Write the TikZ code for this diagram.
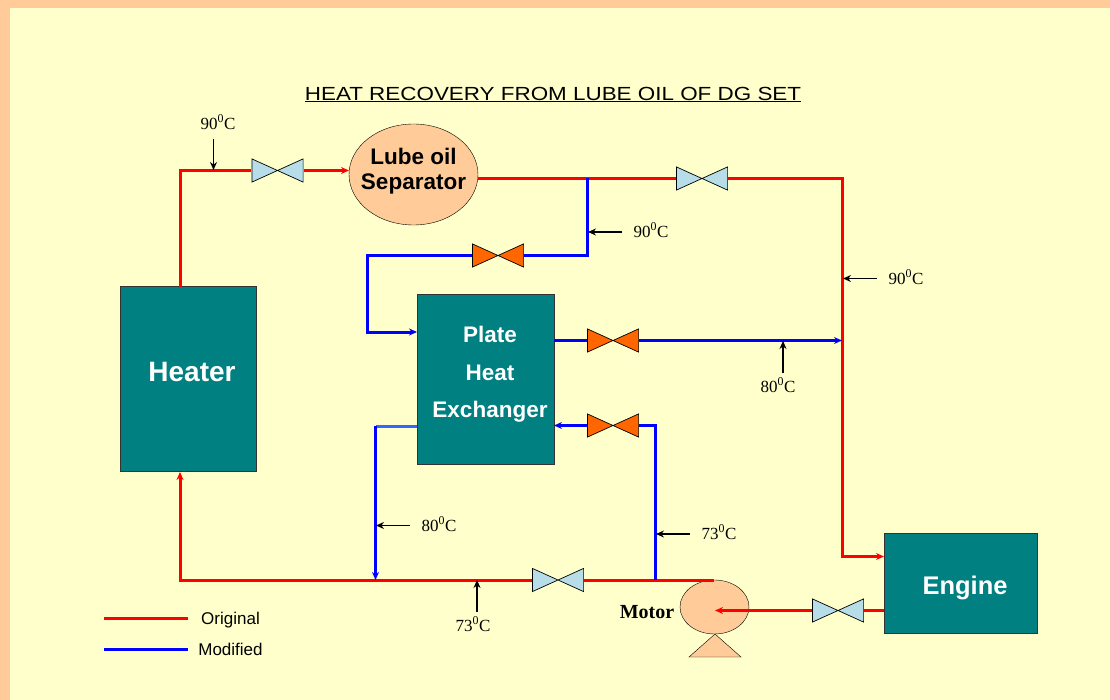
\documentclass[tikz,border=0pt]{standalone}
\usepackage{fontspec}
\setmainfont{Liberation Serif}
\setsansfont{Liberation Sans}
\newfontfamily\titlefont[FakeStretch=1.18]{Liberation Sans}
\usetikzlibrary{arrows.meta,shapes.geometric}
\definecolor{paleyellow}{HTML}{FFFFCC}
\definecolor{peach}{HTML}{FFCC99}
\definecolor{tealbox}{HTML}{008080}
\definecolor{valveblue}{HTML}{B7DEE8}
\definecolor{valveorange}{HTML}{FF6600}
\definecolor{paleblue}{HTML}{3366FF}
\tikzset{
    box/.style={draw=black!80, fill=tealbox, inner sep=0pt},
    boxtext/.style={font=\sffamily\bfseries\fontsize{#1}{#1}\selectfont, text=white, inner sep=0pt},
    valve/.style={minimum width=52pt, minimum height=24pt, inner sep=0pt, path picture={
        \draw[fill=#1, line width=0.7pt] ([shift={(-25.6pt,-11.6pt)}]path picture bounding box.center) -- ([shift={(25.6pt,11.6pt)}]path picture bounding box.center) -- ([shift={(25.6pt,-11.6pt)}]path picture bounding box.center) -- ([shift={(-25.6pt,11.6pt)}]path picture bounding box.center) -- cycle;}},
    oldline/.style={draw=red, line width=3pt},
    newline/.style={draw=blue, line width=3pt},
    tip/.style={-{Stealth[length=8pt,width=7pt]}},
    pointer/.style={draw=black, line width=1.2pt, -{Stealth[length=8pt,width=7pt]}},
    temp/.style={font=\fontsize{17}{20}\selectfont, inner sep=0pt},
    legendtext/.style={font=\sffamily\fontsize{17}{20}\selectfont, inner sep=0pt}
}
\begin{document}
\begin{tikzpicture}[x=1pt, y=-1pt]
    \useasboundingbox (0, 0) rectangle (1110, 700);

    % Hintergrund
    \fill[peach] (0, 0) rectangle (1110, 700);
    \fill[paleyellow] (10, 8) rectangle (1110, 700);

    % Titel
    \node (title) at (553, 94.5) [font=\titlefont\fontsize{19}{22}\selectfont, inner sep=0pt] {\underline{HEAT RECOVERY FROM LUBE OIL OF DG SET}};

    % Anlagen
    \node (heater) at (188, 379) [box, minimum width=136pt, minimum height=185pt] {};
    \node (heatertext) at (192, 372) [boxtext=28] {Heater};
    \node (plate) at (485.5, 379) [box, minimum width=136.5pt, minimum height=170pt] {};
    \node (platetext) at (490, 334.5) [boxtext=22.5] {Plate};
    \node (heat) at (490, 373) [boxtext=22.5] {Heat};
    \node (exchanger) at (490, 412) [boxtext=22.5] {Exchanger};
    \node (engine) at (961, 583.5) [box, minimum width=153pt, minimum height=100pt] {};
    \node (enginetext) at (965, 588) [boxtext=25.5] {Engine};
    \node (separator) at (413.5, 174.5) [ellipse, draw=black, fill=peach, minimum width=129pt, minimum height=101pt, inner sep=0pt] {};
    \node (separatortext) at (413.5, 171) [align=center, inner sep=0pt, font=\sffamily\bfseries\fontsize{22.5}{25}\selectfont] {Lube oil\\Separator};
    \node (motor) at (714.5, 607) [ellipse, draw=black, fill=peach, minimum width=69pt, minimum height=54pt, inner sep=0pt] {};
    \draw[fill=peach] (715, 634) -- (741, 657) -- (689, 657) -- cycle;
    \node (motortext) at (647, 612) [font=\bfseries\fontsize{20}{20}\selectfont, inner sep=0pt] {Motor};

    % Ventile
    \node (vheater) at (277.5, 170.5) [valve=valveblue] {};
    \node (vtop) at (702, 178.5) [valve=valveblue] {};
    \node (vreturn) at (558, 580) [valve=valveblue] {};
    \node (vengine) at (838, 610.5) [valve=valveblue] {};
    \node (vin) at (498, 255.5) [valve=valveorange] {};
    \node (vout) at (613, 340.5) [valve=valveorange] {};
    \node (vback) at (613, 425.5) [valve=valveorange] {};

    % Hilfspunkte
    \coordinate (heatertop) at (180, 287);
    \coordinate (topleft) at (180, 170.5);
    \coordinate (septop) at (349, 170.5);
    \coordinate (sepright) at (478, 178.5);
    \coordinate (topright) at (842, 178.5);
    \coordinate (enginein) at (842, 556.5);
    \coordinate (engineleft) at (884, 556.5);
    \coordinate (branch) at (587.5, 178.5);
    \coordinate (branchdown) at (587.5, 255.5);
    \coordinate (inleft) at (367, 255.5);
    \coordinate (inlow) at (367, 332);
    \coordinate (plateleft) at (417, 332);
    \coordinate (plateout) at (554, 340.5);
    \coordinate (joinright) at (842, 340.5);
    \coordinate (pumptop) at (714, 580);
    \coordinate (bottomleft) at (180, 580);
    \coordinate (heaterlow) at (180, 472);
    \coordinate (upright) at (655.5, 580);
    \coordinate (upturn) at (655.5, 425.5);
    \coordinate (plateback) at (554, 425.5);
    \coordinate (platedown) at (417, 426);
    \coordinate (downturn) at (375.5, 426);
    \coordinate (downend) at (375.5, 580);
    \coordinate (engineout) at (884, 610.5);
    \coordinate (motorin) at (715, 610.5);

    % Leitungen original
    \draw[oldline] (heatertop) -- (topleft) -- (vheater);
    \draw[oldline, tip] (vheater) -- (septop);
    \draw[oldline] (sepright) -- (vtop);
    \draw[oldline, tip] (vtop) -- (topright) -- (enginein) -- (engineleft);
    \draw[oldline] (pumptop) -- (vreturn);
    \draw[oldline, tip] (vreturn) -- (bottomleft) -- (heaterlow);
    \draw[oldline] (engineout) -- (vengine);
    \draw[oldline, tip] (vengine) -- (motorin);

    % Leitungen neu
    \draw[newline] (branch) -- (branchdown) -- (vin);
    \draw[newline, tip] (vin) -- (inleft) -- (inlow) -- (plateleft);
    \draw[newline] (plateout) -- (vout);
    \draw[newline, tip] (vout) -- (joinright);
    \draw[newline] (upright) -- (upturn) -- (vback);
    \draw[newline, tip] (vback) -- (plateback);
    \draw[newline, draw=paleblue] (platedown) -- (downturn);
    \draw[newline, tip] (downturn) -- (downend);

    % Temperaturen
    \node (t1) at (218, 122) [temp] {90\textsuperscript{0}C};
    \node (t2) at (651, 230) [temp] {90\textsuperscript{0}C};
    \node (t3) at (906, 277) [temp] {90\textsuperscript{0}C};
    \node (t4) at (778, 385) [temp] {80\textsuperscript{0}C};
    \node (t5) at (439, 524) [temp] {80\textsuperscript{0}C};
    \node (t6) at (719, 532) [temp] {73\textsuperscript{0}C};
    \node (t7) at (473, 624) [temp] {73\textsuperscript{0}C};

    % Beschriftungen
    \coordinate (p1a) at (213.5, 139);
    \coordinate (p1b) at (213.5, 170);
    \coordinate (p2a) at (622, 232);
    \coordinate (p2b) at (588, 232);
    \coordinate (p3a) at (877, 278.5);
    \coordinate (p3b) at (843, 278.5);
    \coordinate (p4a) at (783, 373);
    \coordinate (p4b) at (783, 341);
    \coordinate (p5a) at (410, 525.5);
    \coordinate (p5b) at (376, 525.5);
    \coordinate (p6a) at (690, 534);
    \coordinate (p6b) at (656, 534);
    \coordinate (p7a) at (477, 612);
    \coordinate (p7b) at (477, 580);
    \draw[pointer] (p1a) -- (p1b);
    \draw[pointer] (p2a) -- (p2b);
    \draw[pointer] (p3a) -- (p3b);
    \draw[pointer] (p4a) -- (p4b);
    \draw[pointer] (p5a) -- (p5b);
    \draw[pointer] (p6a) -- (p6b);
    \draw[pointer] (p7a) -- (p7b);

    % Legende
    \coordinate (l1a) at (104, 618.5);
    \coordinate (l1b) at (188, 618.5);
    \coordinate (l2a) at (104, 649);
    \coordinate (l2b) at (188, 649);
    \draw[oldline] (l1a) -- (l1b);
    \draw[newline] (l2a) -- (l2b);
    \node (original) at (230.5, 620) [legendtext] {Original};
    \node (modified) at (230.5, 649) [legendtext] {Modified};
\end{tikzpicture}
\end{document}
